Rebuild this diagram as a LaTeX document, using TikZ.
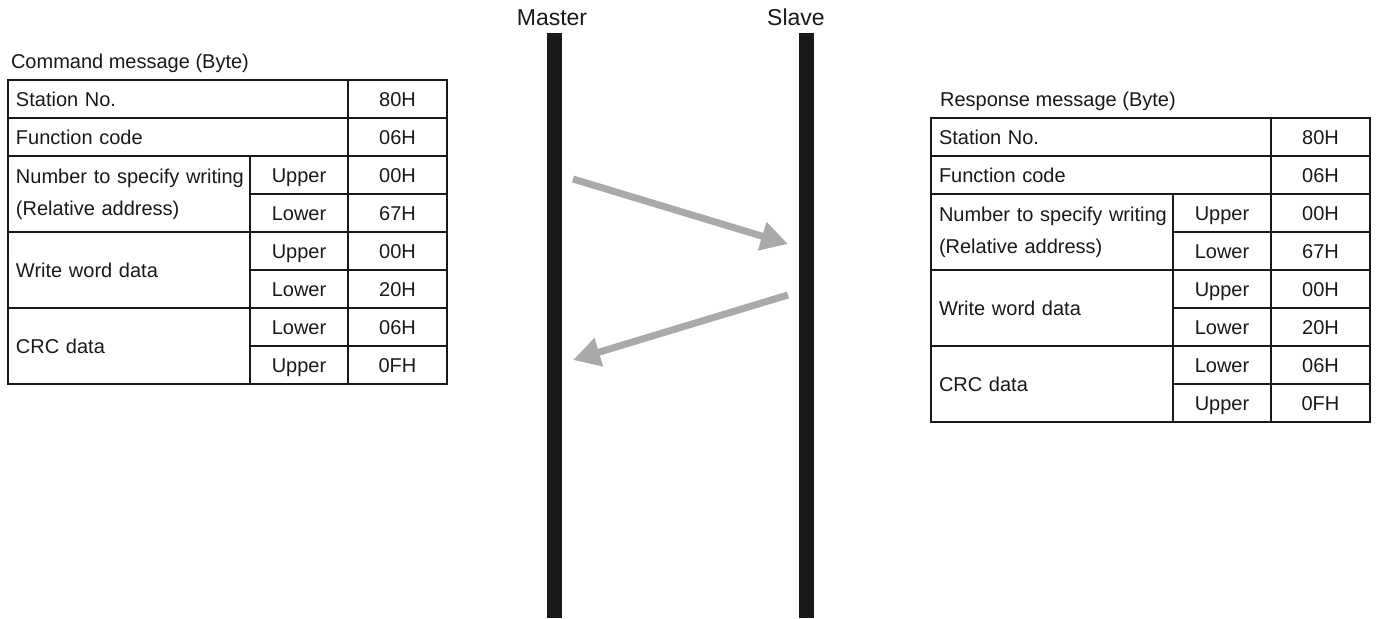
\documentclass[tikz,border=0pt]{standalone}
\usepackage{fontspec}
\setmainfont{Liberation Sans}
\usetikzlibrary{arrows.meta, positioning}
\definecolor{arrowgray}{HTML}{A7A9AC}

\begin{document}
\begin{tikzpicture}[
    x=0.5pt, y=-0.5pt,
    font=\fontsize{10}{16}\selectfont,
    cell/.style={rectangle, draw=black!90, line width=0.8pt, text=black!90, minimum height=19pt, inner sep=0pt, outer sep=0pt},
    wide/.style={cell, minimum width=170pt, text width=162pt, align=left, text height=7.2pt, text depth=0pt},
    item/.style={cell, minimum width=121pt, minimum height=38pt, text width=113pt, align=left},
    part/.style={cell, minimum width=49pt, text height=7.2pt, text depth=0pt},
    value/.style={cell, minimum width=49.5pt, text height=7.2pt, text depth=0pt},
    heading/.style={text=black!90, inner sep=3.33pt},
    side/.style={text=black!90, inner sep=0pt, font=\fontsize{11.5}{14}\selectfont},
    lifeline/.style={rectangle, fill=black!90, minimum width=7.5pt, minimum height=292.5pt, inner sep=0pt},
    msg/.style={draw=arrowgray, line width=3.5pt, -{Triangle[length=13.5pt, width=14pt]}}
]
\useasboundingbox (0,0) rectangle (1380,618);

% Lifelines
\node[lifeline] (master_bar) at (554.5,325.5) {};
\node[lifeline] (slave_bar) at (806,325.5) {};
\node[side, anchor=base] (master_lbl) at (552,25) {Master};
\node[side, anchor=base] (slave_lbl) at (796,25) {Slave};

% Command message
\node[wide, anchor=north west] (cmd_station) at (8,80) {Station No.};
\node[value, right=0pt of cmd_station] (cmd_station_val) {80H};
\node[wide, below=0pt of cmd_station] (cmd_func) {Function code};
\node[value, right=0pt of cmd_func] (cmd_func_val) {06H};
\node[item, anchor=north west] (cmd_addr) at (cmd_func.south west) {\mbox{Number to specify writing}\\(Relative address)};
\node[part, anchor=north west] (cmd_addr_up) at (cmd_addr.north east) {Upper};
\node[value, right=0pt of cmd_addr_up] (cmd_addr_up_val) {00H};
\node[part, below=0pt of cmd_addr_up] (cmd_addr_lo) {Lower};
\node[value, right=0pt of cmd_addr_lo] (cmd_addr_lo_val) {67H};
\node[item, anchor=north west] (cmd_data) at (cmd_addr.south west) {Write word data};
\node[part, anchor=north west] (cmd_data_up) at (cmd_data.north east) {Upper};
\node[value, right=0pt of cmd_data_up] (cmd_data_up_val) {00H};
\node[part, below=0pt of cmd_data_up] (cmd_data_lo) {Lower};
\node[value, right=0pt of cmd_data_lo] (cmd_data_lo_val) {20H};
\node[item, anchor=north west] (cmd_crc) at (cmd_data.south west) {CRC data};
\node[part, anchor=north west] (cmd_crc_lo) at (cmd_crc.north east) {Lower};
\node[value, right=0pt of cmd_crc_lo] (cmd_crc_lo_val) {06H};
\node[part, below=0pt of cmd_crc_lo] (cmd_crc_up) {Upper};
\node[value, right=0pt of cmd_crc_up] (cmd_crc_up_val) {0FH};
\node[heading, above right=0pt and -2pt of cmd_station.north west] (cmd_title) {Command message (Byte)};

% Response message
\node[wide, anchor=north west] (res_station) at (931,118) {Station No.};
\node[value, right=0pt of res_station] (res_station_val) {80H};
\node[wide, below=0pt of res_station] (res_func) {Function code};
\node[value, right=0pt of res_func] (res_func_val) {06H};
\node[item, anchor=north west] (res_addr) at (res_func.south west) {\mbox{Number to specify writing}\\(Relative address)};
\node[part, anchor=north west] (res_addr_up) at (res_addr.north east) {Upper};
\node[value, right=0pt of res_addr_up] (res_addr_up_val) {00H};
\node[part, below=0pt of res_addr_up] (res_addr_lo) {Lower};
\node[value, right=0pt of res_addr_lo] (res_addr_lo_val) {67H};
\node[item, anchor=north west] (res_data) at (res_addr.south west) {Write word data};
\node[part, anchor=north west] (res_data_up) at (res_data.north east) {Upper};
\node[value, right=0pt of res_data_up] (res_data_up_val) {00H};
\node[part, below=0pt of res_data_up] (res_data_lo) {Lower};
\node[value, right=0pt of res_data_lo] (res_data_lo_val) {20H};
\node[item, anchor=north west] (res_crc) at (res_data.south west) {CRC data};
\node[part, anchor=north west] (res_crc_lo) at (res_crc.north east) {Lower};
\node[value, right=0pt of res_crc_lo] (res_crc_lo_val) {06H};
\node[part, below=0pt of res_crc_lo] (res_crc_up) {Upper};
\node[value, right=0pt of res_crc_up] (res_crc_up_val) {0FH};
\node[heading, above right=0pt and 1pt of res_station.north west] (res_title) {Response message (Byte)};

% Messages
\coordinate (cmd_from) at (573,179);
\coordinate (cmd_to) at (788,244);
\coordinate (res_from) at (788,295);
\coordinate (res_to) at (573,360);
\draw[msg] (cmd_from) -- (cmd_to);
\draw[msg] (res_from) -- (res_to);

\end{tikzpicture}
\end{document}
